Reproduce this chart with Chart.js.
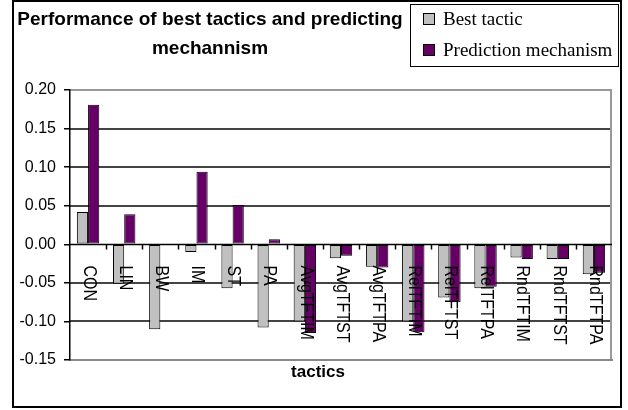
<!DOCTYPE html>
<html>
<head>
<meta charset="utf-8">
<script src="https://cdn.jsdelivr.net/npm/chart.js@4.4.0/dist/chart.umd.min.js"></script>
<style>
    body { margin: 0; background: #fff; }
    #wrap { position: relative; width: 628px; height: 410px; }
    #chartTitle {
        position: absolute; left: 13px; top: 4px; width: 394px;
        text-align: center; font: bold 19px "Liberation Sans", Arial, sans-serif;
        line-height: 29px; color: #000;
    }
    #chartLegend {
        position: absolute; left: 410px; top: 4px; width: 207px; height: 61px;
        border: 1px solid #000; background: #fff;
        font: 19px "Liberation Serif", "Times New Roman", serif; color: #000;
    }
    .item { position: absolute; left: 12px; height: 20px; line-height: 20px; white-space: nowrap; }
    .box { display: inline-block; width: 10px; height: 10px; border: 1px solid #000; margin-right: 8px; vertical-align: 0px; }
</style>
</head>
<body>
<div id="wrap">
    <canvas id="perfChart" width="628" height="410"></canvas>
    <div id="chartTitle">Performance of best tactics and predicting<br>mechannism</div>
    <div id="chartLegend"></div>
</div>
<script>
// ========================================================================
// 데이터
// ========================================================================
const categories = ['CON', 'LIN', 'BW', 'IM', 'ST', 'PA',
    'AvgTFTIM', 'AvgTFTST', 'AvgTFTPA',
    'RelTFTIM', 'RelTFTST', 'RelTFTPA',
    'RndTFTIM', 'RndTFTST', 'RndTFTPA'];
const seriesNames = ['Best tactic', 'Prediction mechanism'];
const bestTactic = [0.042, -0.051, -0.110, -0.010, -0.057, -0.108,
    -0.100, -0.018, -0.029, -0.100, -0.069, -0.057, -0.017, -0.019, -0.039];
const prediction = [0.181, 0.039, 0, 0.094, 0.051, 0.0065,
    -0.115, -0.015, -0.030, -0.114, -0.075, -0.055, -0.019, -0.019, -0.037];
const yTicks = [-0.15, -0.10, -0.05, 0.00, 0.05, 0.10, 0.15, 0.20];
const xTitle = 'tactics';

const colors = ['#c0c0c0', '#660066'];

// ========================================================================
// 플러그인: 외곽선, 플롯 테두리, 격자, 0선, 카테고리 라벨
// ========================================================================
const decorPlugin = {
    id: 'decor',
    beforeDraw(chart) {
        const ctx = chart.ctx;
        const area = chart.chartArea;
        const yScale = chart.scales.y;
        ctx.save();
        ctx.fillStyle = '#fff';
        ctx.fillRect(0, 0, chart.width, chart.height);
        ctx.strokeStyle = '#000';
        ctx.lineWidth = 2;
        ctx.strokeRect(13, 1, 608, 406);

        // 가로 격자선
        for (let k = 0; k < yTicks.length; k++) {
            const v = yTicks[k];
            if (v === 0) continue;
            const py = Math.round(yScale.getPixelForValue(v));
            ctx.fillStyle = v > 0.19 ? '#999' : '#444';
            ctx.fillRect(area.left, py - 1, area.right - area.left, 2);
        }
        // 플롯 테두리 (오른쪽)
        ctx.fillStyle = '#999';
        ctx.fillRect(area.right - 2, area.top, 2, area.bottom - area.top);
        ctx.restore();
    },
    afterDatasetsDraw(chart) {
        const { ctx, chartArea, scales } = chart;
        const x = scales.x, y = scales.y;
        const y0 = Math.round(y.getPixelForValue(0)) + 0.5;
        ctx.save();
        // 0 기준선 + 눈금
        ctx.strokeStyle = '#000';
        ctx.lineWidth = 1.5;
        ctx.beginPath();
        ctx.moveTo(chartArea.left, y0);
        ctx.lineTo(chartArea.right, y0);
        const step = (chartArea.right - chartArea.left) / categories.length;
        for (let i = 1; i < categories.length; i++) {
            const tx = Math.round(chartArea.left + i * step) + 0.5;
            ctx.moveTo(tx, y0);
            ctx.lineTo(tx, y0 + 5);
        }
        ctx.stroke();

        // 세로 카테고리 라벨 (위에서 아래로)
        ctx.fillStyle = '#000';
        ctx.font = '16px "Liberation Sans", Arial, sans-serif';
        ctx.textAlign = 'left';
        ctx.textBaseline = 'middle';
        categories.forEach((label, i) => {
            const cx = x.getPixelForValue(i);
            ctx.save();
            ctx.translate(cx + 1, y0 + 21);
            ctx.rotate(Math.PI / 2);
            ctx.scale(1, 1.2);  // 원본처럼 가로로 약간 넓게
            ctx.fillText(label, 0, 0);
            ctx.restore();
        });

        // x축 제목
        ctx.font = 'bold 17px "Liberation Sans", Arial, sans-serif';
        ctx.textAlign = 'center';
        ctx.fillText(xTitle, 318, chartArea.bottom + 12);
        ctx.restore();
    }
};

// ========================================================================
// 차트
// ========================================================================
const chart = new Chart(document.getElementById('perfChart'), {
    type: 'bar',
    data: {
        labels: categories,
        datasets: [
            { label: seriesNames[0], data: bestTactic },
            { label: seriesNames[1], data: prediction }
        ].map((d, i) => ({
            ...d,
            backgroundColor: colors[i],
            borderColor: '#000',
            borderWidth: 1,
            borderSkipped: false,
            categoryPercentage: 0.62,
            barPercentage: 1.0
        }))
    },
    options: {
        responsive: false,
        animation: false,
        layout: { padding: { left: 0, right: 16, top: 90, bottom: 50 } },
        plugins: {
            legend: { display: false },
            title: { display: false },
            tooltip: { enabled: false }
        },
        scales: {
            x: {
                ticks: { display: false },
                grid: { display: false, drawTicks: false },
                border: { display: true, color: '#888', width: 2 },
                afterFit(scale) { scale.height = 0; }
            },
            y: {
                min: -0.15,
                max: 0.20,
                afterBuildTicks(scale) { scale.ticks = yTicks.map(v => ({ value: v })); },
                afterFit(scale) { scale.width = 70; },
                ticks: {
                    color: '#000',
                    padding: 8,
                    font: { family: '"Liberation Sans", Arial, sans-serif', size: 16 },
                    callback: v => v.toFixed(2)
                },
                grid: {
                    drawOnChartArea: false,
                    tickColor: '#000',
                    tickLength: 6,
                    lineWidth: 1.5
                },
                border: { display: true, color: '#000', width: 1.5 }
            }
        }
    },
    plugins: [decorPlugin]
});

// ========================================================================
// 범례 (HTML)
// ========================================================================
const legendEl = document.getElementById('chartLegend');
seriesNames.forEach((name, i) => {
    const item = document.createElement('div');
    item.className = 'item';
    item.style.top = (4 + i * 31) + 'px';
    item.innerHTML = '<span class="box" style="background:' + colors[i] + '"></span>' + name;
    legendEl.appendChild(item);
});
</script>
</body>
</html>
